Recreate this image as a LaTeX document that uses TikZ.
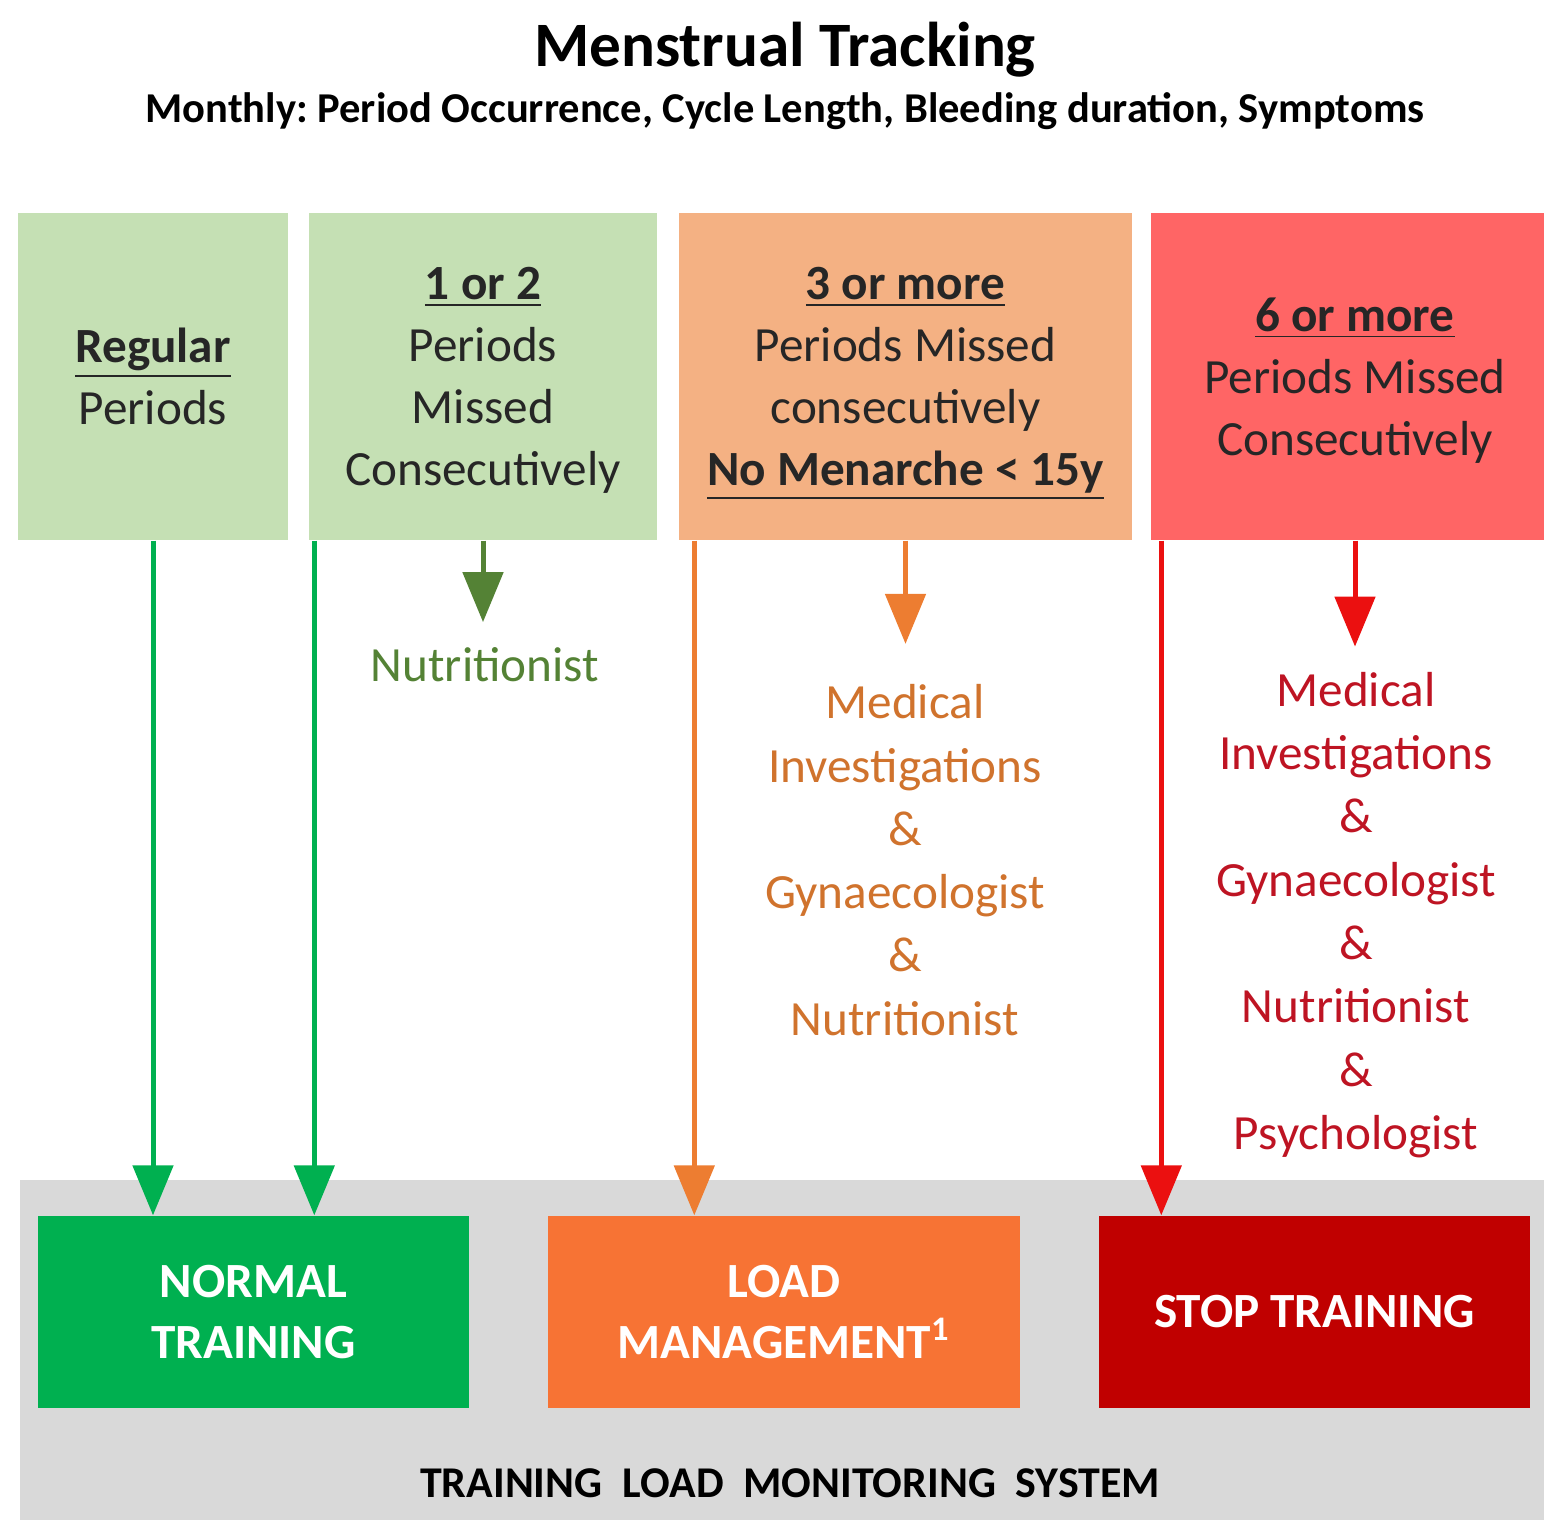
\documentclass[tikz,border=0pt]{standalone}
\usepackage{fontspec}
\setmainfont{Carlito}
\usetikzlibrary{arrows.meta}
\definecolor{catgreen}{HTML}{C5E0B4}
\definecolor{catorange}{HTML}{F4B183}
\definecolor{catred}{HTML}{FF6565}
\definecolor{normalgreen}{HTML}{00B050}
\definecolor{loadorange}{RGB}{247,115,52}
\definecolor{stopred}{HTML}{C00000}
\definecolor{bandgray}{HTML}{D9D9D9}
\definecolor{arrowgreen}{HTML}{00B050}
\definecolor{darkgreen}{HTML}{548235}
\definecolor{arroworange}{HTML}{ED7D31}
\definecolor{textorange}{RGB}{208,115,45}
\definecolor{arrowred}{RGB}{235,16,16}
\definecolor{textred}{RGB}{190,20,35}
\newcommand{\ulbold}[1]{\underline{\textbf{#1}}}
\frenchspacing
\tikzset{
  heading/.style={font=\fontsize{18}{22}\selectfont\bfseries, inner sep=0pt},
  subheading/.style={font=\fontsize{12.1}{14}\selectfont\bfseries, inner sep=0pt},
  top-box/.style={
    minimum width=#1,
    minimum height=3.27cm,
    inner sep=0pt,
    text depth=0pt,
    align=center,
    text=black!85,
    font=\fontsize{14}{17.6}\selectfont
  },
  bottom-box/.style={
    minimum width=#1,
    minimum height=1.92cm,
    inner sep=0pt,
    align=center,
    text=white,
    font=\fontsize{14}{17.6}\selectfont\bfseries
  },
  advice/.style={align=center, inner sep=0pt, font=\fontsize{14}{18}\selectfont},
  band-text/.style={font=\fontsize{12.5}{15}\selectfont\bfseries, inner sep=0pt},
  arrow-line/.style={line width=0.05cm, -{Triangle[width=0.4cm,length=0.5cm]}}
}

\begin{document}
\begin{tikzpicture}
  \useasboundingbox (0,0) rectangle (15.44,-15.20);
  % Heading
  \node[heading, anchor=base] (title) at (7.85,-0.66) {Menstrual Tracking};
  \node[subheading, anchor=base] (subtitle) at (7.85,-1.22)
    {Monthly: Period Occurrence, Cycle Length, Bleeding duration, Symptoms};
  % Categories
  \node[top-box=2.70cm, fill=catgreen] (regular) at (1.53,-3.765)
    {\ulbold{Regular}\\Periods};
  \node[top-box=3.48cm, fill=catgreen] (onetwo) at (4.83,-3.765)
    {\ulbold{1 or 2}\\Periods\\Missed\\Consecutively};
  \node[top-box=4.53cm, fill=catorange] (three) at (9.055,-3.765)
    {\ulbold{3 or more}\\Periods Missed\\consecutively\\\ulbold{No Menarche < 15y}};
  \node[top-box=4.08cm, fill=catred] (six) at (13.55,-3.765)
    {\ulbold{6 or more}\\Periods Missed\\Consecutively};
  % Referrals
  \node[advice, text=darkgreen] (nutri) at (4.85,-6.65) {Nutritionist};
  \node[advice, text=textorange] (med-orange) at (9.05,-8.60)
    {Medical\\Investigations\\\&\\Gynaecologist\\\&\\Nutritionist};
  \node[advice, text=textred] (med-red) at (13.56,-9.15)
    {Medical\\Investigations\\\&\\Gynaecologist\\\&\\Nutritionist\\\&\\Psychologist};
  % Training load monitoring system
  \fill[bandgray] (0.20,-11.80) rectangle (15.44,-15.20);
  \node[band-text, anchor=base] (system) at (7.90,-14.97)
    {TRAINING\ \ LOAD\ \ MONITORING\ \ SYSTEM};
  \node[bottom-box=4.31cm, fill=normalgreen] (normal) at (2.535,-13.12)
    {NORMAL\\TRAINING};
  \node[bottom-box=4.72cm, fill=loadorange] (load) at (7.84,-13.12)
    {LOAD\\MANAGEMENT\textsuperscript{1}};
  \node[bottom-box=4.31cm, fill=stopred] (stop) at (13.145,-13.12)
    {STOP TRAINING};
  % Arrows
  \coordinate (g1) at (regular.south);
  \coordinate (g2) at ([xshift=0.06cm]onetwo.south west);
  \coordinate (o1) at ([xshift=0.16cm]three.south west);
  \coordinate (r1) at ([xshift=0.11cm]six.south west);
  \draw[arrow-line, arrowgreen] (g1) -- (g1 |- normal.north);
  \draw[arrow-line, arrowgreen] (g2) -- (g2 |- normal.north);
  \draw[arrow-line, arroworange] (o1) -- (o1 |- load.north);
  \draw[arrow-line, arrowred] (r1) -- (r1 |- stop.north);
  \draw[arrow-line, darkgreen, shorten >=0.25cm] (onetwo.south) -- (onetwo.south |- nutri.north);
  \draw[arrow-line, arroworange, shorten >=0.4cm] (three.south) -- (three.south |- med-orange.north);
  \draw[arrow-line, arrowred, shorten >=0.25cm] (six.south) -- (six.south |- med-red.north);
\end{tikzpicture}
\end{document}
